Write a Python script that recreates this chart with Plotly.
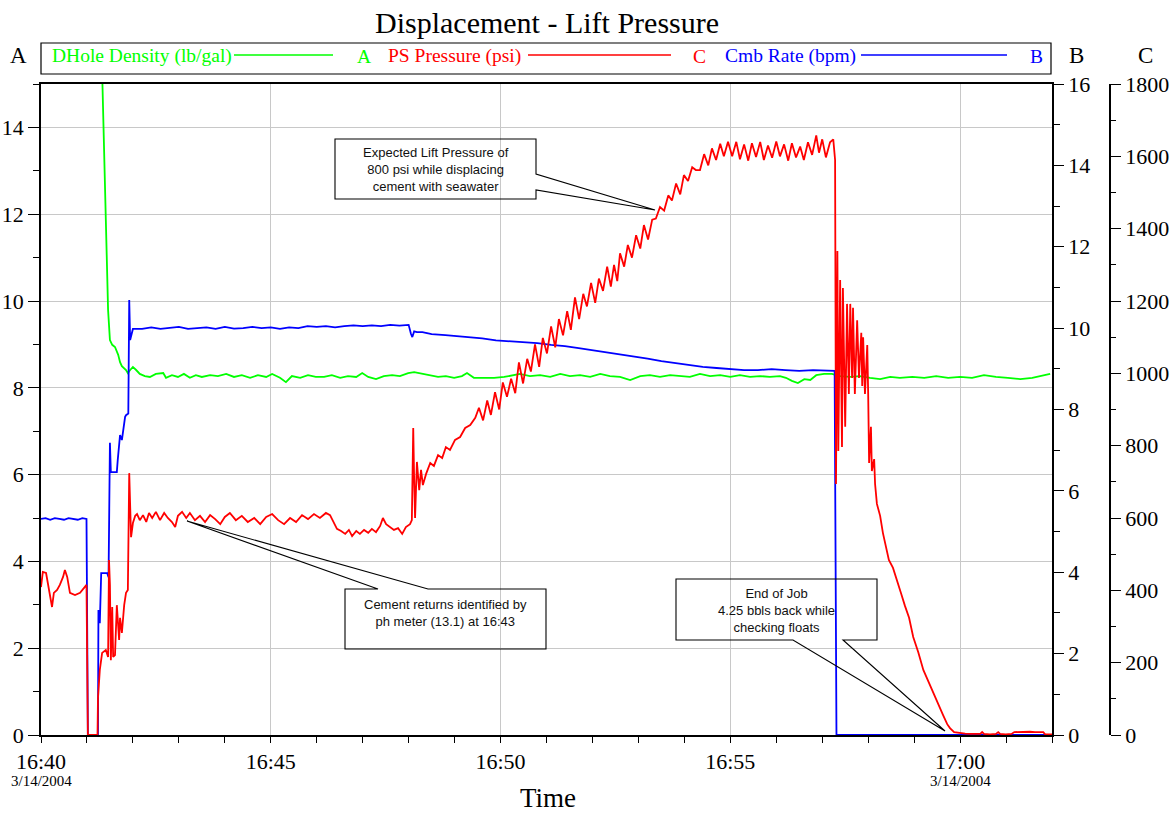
import plotly.graph_objects as go
import pandas as pd

BASE = pd.Timestamp("2004-03-14 16:40:00")

# ---------------- data (time in minutes after 16:40) ----------------
# PS Pressure (psi) -> axis C
red_t = [0.00, 0.04, 0.11, 0.15, 0.20, 0.24, 0.28, 0.35, 0.41, 0.48, 0.52, 0.57, 0.63, 0.74, 0.85, 0.96, 0.99,
         1.02, 1.23, 1.24, 1.28, 1.33, 1.41, 1.46, 1.48, 1.50, 1.52, 1.55, 1.57, 1.61, 1.65, 1.70, 1.72, 1.76,
         1.81, 1.85, 1.89, 1.92, 1.94, 1.96, 2.00, 2.05, 2.09, 2.15, 2.22, 2.29, 2.35, 2.42, 2.50, 2.59, 2.68,
         2.76, 2.85, 2.92, 2.98, 3.07, 3.16, 3.24, 3.35, 3.46, 3.57, 3.68, 3.79, 3.90, 4.00, 4.11, 4.24, 4.37,
         4.50, 4.64, 4.77, 4.90, 5.03, 5.16, 5.29, 5.42, 5.55, 5.68, 5.81, 5.94, 6.07, 6.20, 6.29, 6.38, 6.44,
         6.53, 6.62, 6.70, 6.77, 6.86, 6.94, 7.03, 7.12, 7.20, 7.29, 7.38, 7.44, 7.51, 7.60, 7.68, 7.77, 7.86,
         7.94, 8.03, 8.07, 8.10, 8.12, 8.14, 8.18, 8.23, 8.27, 8.31, 8.38, 8.47, 8.55, 8.64, 8.73, 8.81, 8.90,
         9.01, 9.12, 9.23, 9.34, 9.45, 9.53, 9.62, 9.71, 9.79, 9.88, 9.97, 10.05, 10.14, 10.23, 10.32, 10.40,
         10.49, 10.58, 10.66, 10.75, 10.84, 10.92, 11.01, 11.10, 11.19, 11.27, 11.36, 11.45, 11.53, 11.62,
         11.71, 11.80, 11.88, 11.97, 12.06, 12.14, 12.23, 12.32, 12.40, 12.47, 12.54, 12.60, 12.69, 12.77,
         12.86, 12.95, 13.04, 13.12, 13.21, 13.30, 13.38, 13.47, 13.56, 13.65, 13.73, 13.82, 13.91, 13.99,
         14.08, 14.17, 14.25, 14.34, 14.43, 14.52, 14.60, 14.69, 14.78, 14.86, 14.95, 15.04, 15.13, 15.21,
         15.30, 15.39, 15.47, 15.56, 15.65, 15.73, 15.82, 15.91, 16.00, 16.08, 16.17, 16.26, 16.34, 16.43,
         16.52, 16.60, 16.69, 16.78, 16.87, 16.93, 17.00, 17.08, 17.17, 17.24, 17.28, 17.30, 17.33, 17.35,
         17.39, 17.43, 17.45, 17.50, 17.54, 17.58, 17.61, 17.65, 17.67, 17.71, 17.76, 17.80, 17.85, 17.87,
         17.89, 17.93, 17.98, 18.00, 18.02, 18.06, 18.08, 18.13, 18.15, 18.19, 18.26, 18.32, 18.39, 18.45,
         18.54, 18.63, 18.72, 18.80, 18.89, 18.98, 19.09, 19.20, 19.31, 19.42, 19.52, 19.63, 19.72, 19.78,
         19.87, 19.96, 20.00, 20.11, 20.22, 20.33, 20.44, 20.48, 20.52, 20.65, 20.78, 20.83, 20.87, 20.99,
         21.12, 21.18, 21.31, 21.41, 21.52, 21.63, 21.74, 21.81, 21.85, 21.96, 22.00]
red_v = [409, 451, 448, 420, 382, 354, 393, 401, 415, 437, 456, 437, 393, 387, 393, 412, 415,
         0, 0, 102, 180, 227, 235, 216, 484, 415, 207, 354, 216, 221, 359, 263, 324, 282,
         359, 393, 401, 724, 594, 547, 586, 606, 611, 594, 608, 589, 614, 600, 617, 594, 614,
         600, 589, 575, 606, 617, 600, 614, 594, 606, 589, 608, 597, 583, 603, 614, 594, 606,
         589, 600, 583, 603, 611, 594, 583, 600, 589, 608, 597, 611, 600, 614, 608, 583, 570,
         564, 556, 567, 550, 564, 556, 567, 559, 570, 561, 578, 600, 583, 575, 567, 572, 556,
         575, 583, 594, 849, 705, 600, 755, 677, 733, 691, 722, 752, 744, 774, 766, 796, 788,
         816, 824, 849, 857, 877, 905, 870, 925, 885, 948, 900, 975, 935, 985, 945, 1030,
         972, 1040, 1005, 1080, 1018, 1098, 1055, 1130, 1072, 1150, 1105, 1172, 1120, 1210,
         1150, 1220, 1185, 1250, 1195, 1262, 1228, 1295, 1240, 1300, 1255, 1332, 1295, 1355,
         1320, 1382, 1345, 1410, 1370, 1425, 1428, 1460, 1450, 1492, 1478, 1525, 1495, 1548,
         1532, 1570, 1562, 1562, 1606, 1575, 1622, 1590, 1635, 1600, 1640, 1600, 1640, 1592,
         1633, 1588, 1636, 1598, 1640, 1590, 1630, 1596, 1641, 1600, 1633, 1588, 1636, 1597,
         1627, 1590, 1639, 1604, 1658, 1610, 1647, 1597, 1639, 1647, 1590, 694, 1338, 785,
         1258, 796, 1236, 852, 1192, 943, 1192, 987, 1181, 943, 1147, 987, 1112, 965,
         1100, 943, 1078, 943, 752, 852, 730, 763, 694, 639, 606, 559, 514, 484,
         462, 429, 390, 357, 324, 271, 229, 180, 147, 116, 86, 55, 30, 19,
         8, 6, 5, 4, 3, 3, 3, 8, 3, 2, 3, 8, 3, 2,
         3, 8, 9, 8, 9, 8, 9, 8, 2, 2, 2]

# Cmb Rate (bpm) -> axis B
blue_t = [0.00, 0.10, 0.20, 0.30, 0.40, 0.50, 0.60, 0.70, 0.80, 0.90, 0.99, 1.02, 1.24, 1.25, 1.28, 1.31,
          1.44, 1.47, 1.49, 1.50, 1.52, 1.65, 1.67, 1.72, 1.76, 1.81, 1.83, 1.85, 1.90, 1.92, 1.94, 1.96,
          2.00, 2.20, 2.40, 2.60, 2.80, 3.00, 3.20, 3.40, 3.60, 3.80, 4.00, 4.20, 4.40, 4.60, 4.80, 5.00,
          5.20, 5.40, 5.60, 5.80, 6.00, 6.20, 6.40, 6.60, 6.80, 7.00, 7.20, 7.40, 7.60, 7.80, 8.00, 8.05,
          8.08, 8.12, 8.18, 8.30, 8.50, 8.80, 9.00, 9.30, 9.60, 9.90, 10.20, 10.50, 10.80, 11.10, 11.40,
          11.70, 12.00, 12.30, 12.60, 12.90, 13.20, 13.50, 13.80, 14.10, 14.40, 14.70, 15.00, 15.30,
          15.60, 15.90, 16.20, 16.50, 16.80, 17.10, 17.27, 17.31, 22.00]
blue_v = [5.31, 5.33, 5.29, 5.33, 5.31, 5.29, 5.33, 5.31, 5.29, 5.33, 5.31, 0.0, 0.0, 3.07, 2.75, 3.98,
          3.98, 3.88, 6.51, 7.18, 6.46, 6.46, 6.76, 7.37, 7.25, 7.67, 7.82, 7.86, 7.90, 10.69, 9.71, 9.80,
          9.98, 9.98, 10.02, 9.98, 10.00, 10.03, 9.98, 10.00, 10.02, 9.98, 10.03, 9.99, 10.00, 10.03, 10.00, 10.02,
          9.98, 10.02, 10.00, 10.05, 10.03, 10.05, 10.02, 10.05, 10.07, 10.05, 10.07, 10.05, 10.08, 10.06, 10.08, 9.86,
          9.78, 9.92, 9.90, 9.90, 9.85, 9.83, 9.81, 9.78, 9.75, 9.70, 9.68, 9.66, 9.63, 9.59, 9.56,
          9.51, 9.46, 9.41, 9.36, 9.30, 9.25, 9.19, 9.14, 9.09, 9.05, 9.02, 8.99, 8.97,
          8.97, 8.99, 8.97, 8.95, 8.97, 8.95, 8.95, 0.0, 0.0]

# DHole Density (lb/gal) -> axis A
green_t = [1.33, 1.39, 1.44, 1.46, 1.50, 1.55, 1.61, 1.68, 1.72, 1.76, 1.85, 1.89, 1.94, 2.00, 2.07, 2.15,
           2.26, 2.37, 2.50, 2.66, 2.72, 2.85, 2.98, 3.11, 3.24, 3.37, 3.50, 3.68, 3.85, 4.03, 4.20, 4.37,
           4.55, 4.72, 4.90, 5.03, 5.20, 5.33, 5.46, 5.64, 5.81, 5.98, 6.16, 6.33, 6.51, 6.68, 6.86, 6.99,
           7.12, 7.29, 7.46, 7.64, 7.81, 7.99, 8.12, 8.29, 8.47, 8.64, 8.81, 8.99, 9.16, 9.27, 9.42, 9.64,
           9.86, 10.08, 10.25, 10.42, 10.64, 10.86, 11.08, 11.30, 11.51, 11.73, 11.95, 12.17, 12.38, 12.60,
           12.82, 13.04, 13.25, 13.47, 13.69, 13.91, 14.12, 14.34, 14.56, 14.78, 15.00, 15.21, 15.43, 15.65,
           15.86, 16.08, 16.21, 16.34, 16.47, 16.61, 16.74, 16.87, 17.04, 17.21, 17.39, 17.61, 17.82, 18.04,
           18.26, 18.48, 18.69, 18.96, 19.22, 19.48, 19.74, 20.00, 20.26, 20.52, 20.78, 21.04, 21.31, 21.57,
           21.78, 21.96]
green_v = [15.3, 12.79, 11.01, 9.79, 9.10, 8.99, 8.94, 8.76, 8.59, 8.50, 8.41, 8.34, 8.41, 8.48, 8.41, 8.32,
           8.27, 8.25, 8.32, 8.34, 8.23, 8.29, 8.25, 8.32, 8.23, 8.29, 8.25, 8.29, 8.27, 8.32, 8.25, 8.29,
           8.23, 8.29, 8.25, 8.32, 8.23, 8.13, 8.27, 8.23, 8.29, 8.25, 8.25, 8.29, 8.23, 8.27, 8.25, 8.34,
           8.25, 8.20, 8.27, 8.29, 8.27, 8.34, 8.36, 8.32, 8.29, 8.25, 8.27, 8.23, 8.27, 8.34, 8.23, 8.23,
           8.23, 8.25, 8.29, 8.32, 8.27, 8.29, 8.25, 8.32, 8.27, 8.29, 8.25, 8.32, 8.27, 8.25,
           8.18, 8.27, 8.29, 8.25, 8.29, 8.27, 8.25, 8.32, 8.27, 8.29, 8.25, 8.29, 8.25, 8.27,
           8.25, 8.27, 8.23, 8.16, 8.11, 8.20, 8.18, 8.29, 8.32, 8.32, 8.27, 8.25, 8.27, 8.23,
           8.20, 8.25, 8.23, 8.25, 8.23, 8.27, 8.23, 8.25, 8.23, 8.29, 8.25, 8.23, 8.20, 8.23,
           8.27, 8.32]

x_tick_minutes = [0, 5, 10, 15, 20]
x_tick_labels = ["16:40", "16:45", "16:50", "16:55", "17:00"]
date_label_minutes = [0, 20]
date_label_text = "3/14/2004"

def to_time(mins):
    return [BASE + pd.Timedelta(minutes=m) for m in mins]

# ---------------- layout geometry ----------------
W, H = 1173, 814
ML, MR, MT, MB = 41, 63, 84, 79
PW, PH = W - ML - MR, H - MT - MB
X_END = (1052 - ML) / PW

def px(x):
    return (x - ML) / PW

def py(y):
    return (H - MB - y) / PH

SERIF = "Liberation Serif"
SANS = "Liberation Sans"

fig = go.Figure()
fig.add_trace(go.Scatter(x=to_time(green_t), y=green_v, mode="lines", yaxis="y",
                         line=dict(color="#00ff00", width=1.8), name="DHole Density (lb/gal)"))
fig.add_trace(go.Scatter(x=to_time(blue_t), y=blue_v, mode="lines", yaxis="y2",
                         line=dict(color="#0000ff", width=1.8), name="Cmb Rate (bpm)"))
fig.add_trace(go.Scatter(x=to_time(red_t), y=red_v, mode="lines", yaxis="y3",
                         line=dict(color="#ff0000", width=1.8), name="PS Pressure (psi)"))

tick_font = dict(family=SERIF, size=22, color="black")

fig.update_layout(
    width=W, height=H,
    margin=dict(l=ML, r=MR, t=MT, b=MB, pad=0, autoexpand=False),
    paper_bgcolor="white", plot_bgcolor="white",
    font=dict(family=SERIF, color="black"),
    showlegend=False,
    xaxis=dict(
        domain=[0, X_END], automargin=False,
        range=[BASE, BASE + pd.Timedelta(minutes=22)],
        tickmode="array",
        tickvals=to_time(x_tick_minutes), ticktext=x_tick_labels,
        ticks="outside", ticklen=6, tickwidth=1, tickcolor="black",
        minor=dict(dtick=60000, tick0=BASE, ticks="outside", ticklen=6, tickcolor="black", showgrid=False),
        showgrid=True, gridcolor="#c8c8c8", gridwidth=1,
        showline=True, linecolor="black", linewidth=1.5, mirror=True,
        tickfont=tick_font, zeroline=False,
    ),
    yaxis=dict(
        range=[0, 15], tickmode="linear", tick0=0, dtick=2, automargin=False,
        ticks="outside", ticklen=11, tickcolor="black",
        minor=dict(dtick=1, tick0=0, ticks="outside", ticklen=6, tickcolor="black", showgrid=False),
        showgrid=True, gridcolor="#c8c8c8", gridwidth=1,
        showline=True, linecolor="black", linewidth=1.5,
        tickfont=tick_font, zeroline=False,
    ),
    yaxis2=dict(
        overlaying="y", side="right", anchor="x", automargin=False,
        range=[0, 16], tickmode="linear", tick0=0, dtick=2,
        ticks="outside", ticklen=10, tickcolor="black",
        minor=dict(dtick=1, tick0=0, ticks="outside", ticklen=6, tickcolor="black"),
        showgrid=False, showline=True, linecolor="black", linewidth=1.5,
        tickfont=tick_font, zeroline=False,
    ),
    yaxis3=dict(
        overlaying="y", side="right", anchor="free", position=1.0, automargin=False,
        range=[0, 1800], tickmode="linear", tick0=0, dtick=200,
        ticks="outside", ticklen=10, tickcolor="black",
        minor=dict(dtick=100, tick0=0, ticks="outside", ticklen=5, tickcolor="black"),
        showgrid=False, showline=True, linecolor="black", linewidth=1.5,
        tickfont=tick_font, zeroline=False,
    ),
)

ann = []
# title
ann.append(dict(text="Displacement - Lift Pressure", x=px(547), y=py(23), xref="paper", yref="paper",
                showarrow=False, font=dict(family=SERIF, size=30, color="black"),
                xanchor="center", yanchor="middle"))
# axis title
ann.append(dict(text="Time", x=px(548), y=py(798), xref="paper", yref="paper", showarrow=False,
                font=dict(family=SERIF, size=27, color="black"), xanchor="center", yanchor="middle"))
# date sub-labels
for m in date_label_minutes:
    ann.append(dict(text=date_label_text, x=BASE + pd.Timedelta(minutes=m), y=py(781), xref="x", yref="paper",
                    showarrow=False, font=dict(family=SERIF, size=15, color="black"),
                    xanchor="center", yanchor="middle"))
# axis letters
for letter, xx in [("A", 18), ("B", 1076), ("C", 1145)]:
    ann.append(dict(text=letter, x=px(xx), y=py(55), xref="paper", yref="paper", showarrow=False,
                    font=dict(family=SERIF, size=23, color="black"), xanchor="center", yanchor="middle"))

# custom legend
legend_items = [
    ("DHole Density (lb/gal)", "#00ff00", 50, 234, 333, "A", 364),
    ("PS Pressure (psi)", "#ff0000", 386, 528, 671, "C", 699),
    ("Cmb Rate (bpm)", "#0000ff", 723, 861, 1007, "B", 1036),
]
shapes = []
shapes.append(dict(type="rect", xref="paper", yref="paper", x0=px(41), x1=px(1051), y0=py(74), y1=py(43),
                   line=dict(color="black", width=1.2), fillcolor="rgba(0,0,0,0)"))
for label, col, tx, l0, l1, letter, lx in legend_items:
    ann.append(dict(text=label, x=px(tx), y=py(56), xref="paper", yref="paper", showarrow=False,
                    font=dict(family=SERIF, size=19.5, color=col), xanchor="left", yanchor="middle"))
    ann.append(dict(text=letter, x=px(lx), y=py(56), xref="paper", yref="paper", showarrow=False,
                    font=dict(family=SERIF, size=19.5, color=col), xanchor="center", yanchor="middle"))
    shapes.append(dict(type="line", xref="paper", yref="paper", x0=px(l0), x1=px(l1), y0=py(55), y1=py(55),
                       line=dict(color=col, width=1.5)))

# callouts
def path(points):
    return "M " + " L ".join(f"{px(a):.5f},{py(b):.5f}" for a, b in points) + " Z"

callouts = [
    ([(335, 139), (536, 139), (536, 174), (655, 210), (536, 190), (536, 199), (335, 199)],
     "Expected Lift Pressure of<br>800 psi while displacing<br>cement with seawater", 435.5, 170),
    ([(345, 589), (378, 589), (187, 521), (428, 589), (546, 589), (546, 649), (345, 649)],
     "Cement returns identified by<br>ph meter (13.1) at 16:43", 445.5, 613),
    ([(676, 579), (877, 579), (877, 640), (843, 640), (945, 731), (793, 640), (676, 640)],
     "End of Job<br>4.25 bbls back while<br>checking floats", 776.5, 610),
]
for pts, txt, cx, cy in callouts:
    shapes.append(dict(type="path", xref="paper", yref="paper", path=path(pts),
                       line=dict(color="black", width=1.1), fillcolor="rgba(0,0,0,0)"))
    ann.append(dict(text=txt, x=px(cx), y=py(cy), xref="paper", yref="paper", showarrow=False,
                    font=dict(family=SANS, size=13, color="#111"), align="center",
                    xanchor="center", yanchor="middle"))

fig.update_layout(annotations=ann, shapes=shapes)
fig.write_html("out.html",
               config={"displayModeBar": False},
               post_script="document.body.style.margin='0';document.body.style.overflow='hidden';")
